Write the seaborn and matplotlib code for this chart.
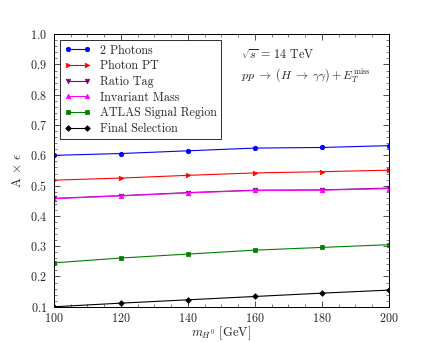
import matplotlib
matplotlib.use("Agg")
import matplotlib.pyplot as plt
import seaborn as sns
import pandas as pd
from matplotlib.ticker import MultipleLocator

mass = [100, 120, 140, 160, 180, 200]
two_photons = [0.600, 0.606, 0.615, 0.624, 0.626, 0.632]
photon_pt = [0.518, 0.525, 0.534, 0.542, 0.546, 0.551]
ratio_tag = [0.458, 0.467, 0.477, 0.485, 0.486, 0.492]
inv_mass = [0.457, 0.466, 0.476, 0.484, 0.485, 0.490]
atlas_sr = [0.245, 0.261, 0.274, 0.287, 0.296, 0.305]
final_sel = [0.100, 0.112, 0.123, 0.134, 0.145, 0.155]

labels = ["2 Photons", "Photon PT", "Ratio Tag", "Invariant Mass",
          "ATLAS Signal Region", "Final Selection"]
series = [two_photons, photon_pt, ratio_tag, inv_mass, atlas_sr, final_sel]
colors = ["#0000ff", "#ff0000", "#800080", "#ff00ff", "#008000", "#000000"]
markers = ["o", ">", "v", "^", "s", "D"]

sns.set_style("ticks")
plt.rcParams.update({
    "font.family": ["serif"],
    "font.serif": ["cmr10", "DejaVu Serif"],
    "mathtext.fontset": "cm",
    "axes.formatter.use_mathtext": True,
    "font.size": 12,
})

fig, ax = plt.subplots(figsize=(6, 4.75), dpi=72)
for lab, vals, c, m in zip(labels, series, colors, markers):
    df = pd.DataFrame({"m": mass, "v": vals})
    sns.lineplot(data=df, x="m", y="v", ax=ax, color=c, marker=m,
                 markersize=4.5 if m != "D" else 4, markeredgecolor=c,
                 linewidth=1.1, label=lab)

ax.set_xlim(100, 200)
ax.set_ylim(0.1, 1.0)
ax.xaxis.set_major_locator(MultipleLocator(20))
ax.xaxis.set_minor_locator(MultipleLocator(5))
ax.yaxis.set_major_locator(MultipleLocator(0.1))
ax.yaxis.set_minor_locator(MultipleLocator(0.02))
ax.tick_params(which="both", direction="in", top=True, right=True,
               labelsize=12)
ax.tick_params(which="major", length=6)
ax.tick_params(axis="x", which="major", pad=5)
ax.tick_params(axis="y", which="major", pad=7)
ax.tick_params(which="minor", length=3)
for s in ax.spines.values():
    s.set_linewidth(1.0)
    s.set_color("black")
ax.set_xlabel(r"$m_{H^0}$ [GeV]", fontsize=12.5, labelpad=0)
ax.set_ylabel(r"A $\times$ $\epsilon$", fontsize=13, labelpad=6)

leg = ax.legend(loc="upper left", frameon=True, fancybox=False,
                edgecolor="black", framealpha=1, fontsize=12,
                handlelength=2.2, borderpad=0.35, labelspacing=0.3,
                numpoints=2, borderaxespad=0.5)
leg.get_frame().set_linewidth(0.8)

ax.text(0.56, 0.925, r"$\sqrt{s}$ = 14 TeV", transform=ax.transAxes,
        fontsize=12, va="center")
ax.text(0.56, 0.85, r"$pp \;\rightarrow\; (H \;\rightarrow\; \gamma\gamma) + E_T^{\rm miss}$",
        transform=ax.transAxes, fontsize=12, va="center")

fig.subplots_adjust(left=0.125, right=0.9, bottom=0.103, top=0.9)
fig.savefig("out.png", dpi=72)
